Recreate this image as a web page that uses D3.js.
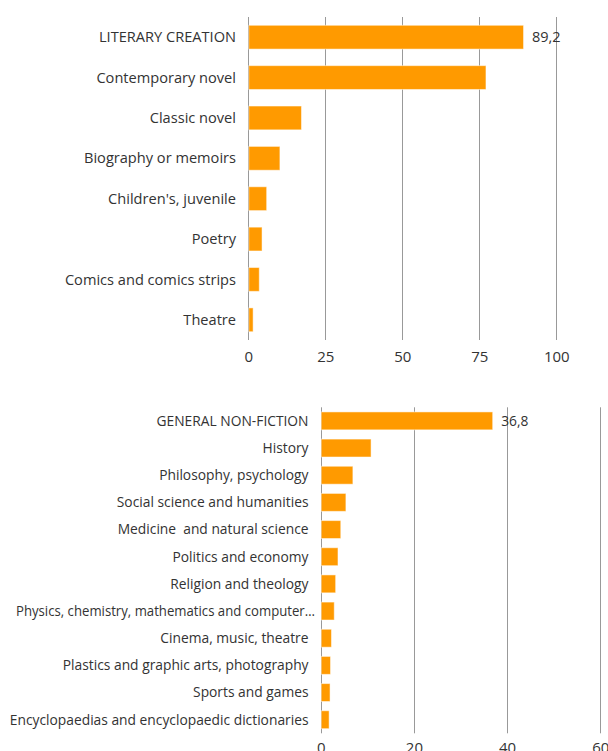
<!DOCTYPE html>
<html>
<head>
<meta charset="utf-8">
<script src="https://cdn.jsdelivr.net/npm/d3@7"></script>
<style>
  html, body { margin: 0; padding: 0; background: #fff; }
  svg { display: block; font-family: "Open Sans", Lato, sans-serif; }
</style>
</head>
<body>
<svg id="chart" width="608" height="751"></svg>
<script>
// ---- Data ----
const literaryCategories = ["LITERARY CREATION", "Contemporary novel", "Classic novel", "Biography or memoirs",
  "Children's, juvenile", "Poetry", "Comics and comics strips", "Theatre"];
const literaryValues = [89.2, 77.0, 17.1, 10.1, 5.8, 4.3, 3.4, 1.4];
const literaryTicks = [0, 25, 50, 75, 100];
const literaryLabelled = ["89,2"];

const nonfictionCategories = ["GENERAL NON-FICTION", "History", "Philosophy, psychology", "Social science and humanities",
  "Medicine  and natural science", "Politics and economy", "Religion and theology",
  "Physics, chemistry, mathematics and computer\u2026", "Cinema, music, theatre",
  "Plastics and graphic arts, photography", "Sports and games", "Encyclopaedias and encyclopaedic dictionaries"];
const nonfictionValues = [36.8, 10.7, 6.8, 5.3, 4.2, 3.6, 3.1, 2.8, 2.2, 2.0, 1.9, 1.7];
const nonfictionTicks = [0, 20, 40, 60];
const nonfictionLabelled = ["36,8"];

const svg = d3.select("#chart");
const BAR = "#ff9a00";
const GRID = "#999";
const TEXT = "#333";

function drawPanel(cfg) {
  const g = svg.append("g");
  const x = d3.scaleLinear().domain(cfg.xDomain).range(cfg.xRange);
  const y = d3.scaleBand().domain(cfg.categories).range(cfg.yRange)
    .paddingInner(cfg.padIn).paddingOuter(cfg.padIn / 2);

  // gridlines
  g.append("g").selectAll("line").data(cfg.ticks).join("line")
    .attr("x1", d => Math.round(x(d)) + 0.5).attr("x2", d => Math.round(x(d)) + 0.5)
    .attr("y1", cfg.yRange[0]).attr("y2", cfg.yRange[1])
    .attr("stroke", GRID).attr("stroke-width", 1);

  // bars
  g.append("g").selectAll("rect").data(cfg.values).join("rect")
    .attr("x", x(0) + 0.5)
    .attr("y", (d, i) => y(cfg.categories[i]))
    .attr("width", d => x(d) - x(0))
    .attr("height", y.bandwidth())
    .attr("fill", BAR)
    .attr("stroke", "#fff").attr("stroke-opacity", 0.5).attr("stroke-width", 1);

  // category labels
  const labels = g.append("g").selectAll("text").data(cfg.categories).join("text")
    .attr("x", cfg.labelX)
    .attr("y", d => y(d) + y.bandwidth() / 2)
    .attr("dy", "0.35em")
    .attr("text-anchor", "end")
    .attr("font-size", cfg.labelSize)
    .attr("fill", TEXT)
    .style("white-space", "pre")
    .text(d => d);

  // overflowing (truncated) labels: start at the left margin, fitted width
  labels.each(function() {
    const w = this.getComputedTextLength();
    if (w > cfg.labelX - 4) {
      d3.select(this)
        .attr("text-anchor", "start")
        .attr("x", cfg.leftMargin)
        .attr("textLength", cfg.truncWidth)
        .attr("lengthAdjust", "spacingAndGlyphs");
    }
  });

  // value label on first bar
  g.append("text")
    .attr("x", x(cfg.values[0]) + 9)
    .attr("y", y(cfg.categories[0]) + y.bandwidth() / 2)
    .attr("dy", "0.35em")
    .attr("font-size", cfg.valueSize)
    .attr("fill", TEXT)
    .text(cfg.valueLabel[0]);

  // x axis tick labels
  const axis = d3.axisBottom(x).tickValues(cfg.ticks).tickSize(0).tickPadding(cfg.tickPad);
  const ax = g.append("g").attr("transform", `translate(0,${cfg.yRange[1]})`).call(axis);
  ax.select(".domain").remove();
  ax.selectAll("text").attr("font-size", cfg.tickSize).attr("fill", TEXT)
    .attr("font-family", "'Open Sans', Lato, sans-serif");
}

drawPanel({
  categories: literaryCategories, values: literaryValues, ticks: literaryTicks,
  valueLabel: literaryLabelled,
  xDomain: [0, 100], xRange: [248.3, 556.3],
  yRange: [17, 340], padIn: 0.41,
  labelX: 236, leftMargin: 10, truncWidth: 220,
  labelSize: 14.6, valueSize: 14.5, tickSize: 15, tickPad: 11
});

drawPanel({
  categories: nonfictionCategories, values: nonfictionValues, ticks: nonfictionTicks,
  valueLabel: nonfictionLabelled,
  xDomain: [0, 60], xRange: [320.7, 600.3],
  yRange: [407.3, 733.3], padIn: 0.34,
  labelX: 308.5, leftMargin: 16, truncWidth: 299,
  labelSize: 13.8, valueSize: 13.8, tickSize: 15, tickPad: 9
});
</script>
</body>
</html>
